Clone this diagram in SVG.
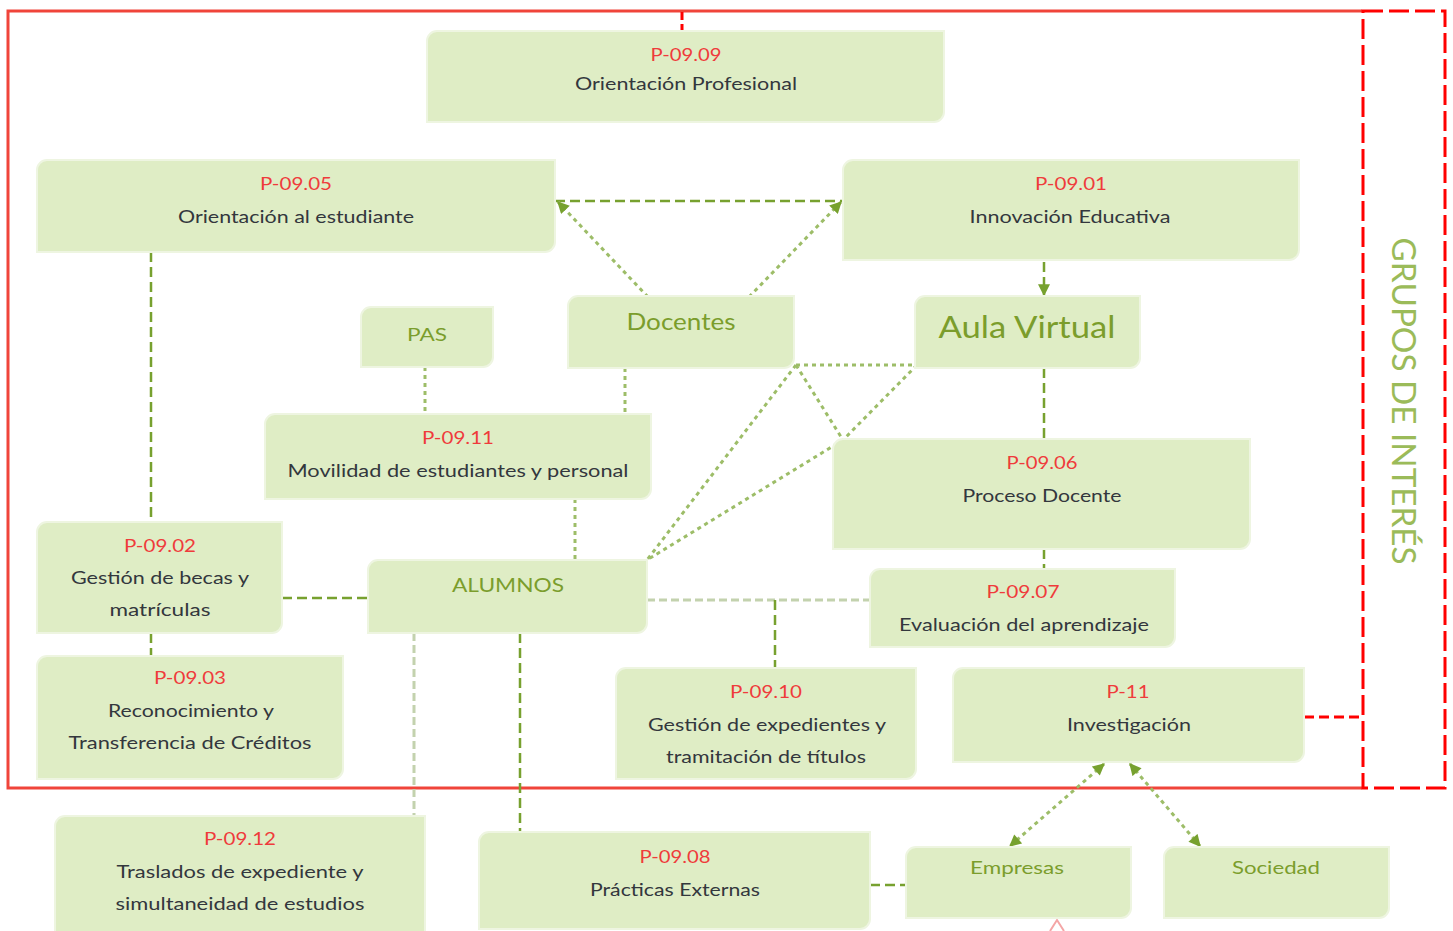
<svg xmlns="http://www.w3.org/2000/svg" width="1453" height="931" viewBox="0 0 1453 931">
<style>
.box{fill:#dfedc5;stroke:#eef5e1;stroke-width:2}
.code{font-family:Lato,"Liberation Sans",sans-serif;font-size:18px;fill:#ef3b3b;text-anchor:middle}
.desc{font-family:Lato,"Liberation Sans",sans-serif;font-size:18px;fill:#33373d;text-anchor:middle}
.lbl{font-family:Lato,"Liberation Sans",sans-serif;fill:#7b9d2c;text-anchor:middle}
.dk{fill:none;stroke:#77a12f;stroke-width:2.5;stroke-dasharray:10 5}
.lt{fill:none;stroke:#9dbd68;stroke-width:3;stroke-dasharray:4 4}
.pl{fill:none;stroke:#c3d2ae;stroke-width:3;stroke-dasharray:8 4}
.rd{fill:none;stroke:#ff0000;stroke-width:3;stroke-dasharray:20 6}
</style>
<defs>
<marker id="ah" viewBox="0 0 10 10" refX="9" refY="5" markerWidth="13" markerHeight="12" markerUnits="userSpaceOnUse" orient="auto-start-reverse"><path d="M0,0 L10,5 L0,10 z" fill="#77a12f"/></marker>
</defs>
<rect width="1453" height="931" fill="#ffffff"/>

<g id="frame">
<path d="M1362 11 H8 V788 H1362" fill="none" stroke="#f0443a" stroke-width="3"/>
<rect x="1363" y="11" width="82" height="777" class="rd"/>
<path d="M682 12 V31" class="rd" style="stroke-dasharray:8 4"/>
<path d="M1304 717 H1362" class="rd" style="stroke-dasharray:10 5"/>
<text x="0" y="0" transform="translate(1392 401) rotate(90)" font-family="Lato,'Liberation Sans',sans-serif" font-size="32" fill="#9bbb59" text-anchor="middle" textLength="327" lengthAdjust="spacingAndGlyphs">GRUPOS DE INTERÉS</text>
</g>

<g id="connectors">
<path d="M555 201 H843" class="dk"/>
<path d="M648 297 L558 202" class="lt" marker-end="url(#ah)"/>
<path d="M749 297 L841 202" class="lt" marker-end="url(#ah)"/>
<path d="M1044 262 V295" class="dk" marker-end="url(#ah)"/>
<path d="M1044 368 V439" class="dk"/>
<path d="M1044 549 V569" class="dk"/>
<path d="M151 252 V522" class="dk"/>
<path d="M151 633 V656" class="dk"/>
<path d="M425 367 V414" class="lt"/>
<path d="M625 368 V414" class="lt"/>
<path d="M575 499 V560" class="lt"/>
<path d="M282 598 H368" class="dk"/>
<path d="M647 600 H870" class="pl"/>
<path d="M775 600 V668" class="dk"/>
<path d="M414 633 V816" class="pl"/>
<path d="M520 633 V832" class="dk"/>
<path d="M796 365 H917" class="lt"/>
<path d="M796 365 L843 440" class="lt"/>
<path d="M796 365 L647 560" class="lt"/>
<path d="M917 365 L843 440 L647 560" class="lt"/>
<path d="M1104 764 L1010 846" class="lt" marker-start="url(#ah)" marker-end="url(#ah)"/>
<path d="M1130 764 L1200 846" class="lt" marker-start="url(#ah)" marker-end="url(#ah)"/>
<path d="M870 885 H906" class="dk"/>
<path d="M1050 931 L1057 920 L1064 931" fill="none" stroke="#f4a6a6" stroke-width="2"/>
</g>

<g id="n0909"><path class="box" d="M437 31 H944 V112 A10 10 0 0 1 934 122 H427 V41 A10 10 0 0 1 437 31Z"/>
<text class="code" x="686" y="61" textLength="71" lengthAdjust="spacingAndGlyphs">P-09.09</text>
<text class="desc" x="686" y="90" textLength="222" lengthAdjust="spacingAndGlyphs">Orientación Profesional</text></g>

<g id="n0905"><path class="box" d="M47 160 H555 V242 A10 10 0 0 1 545 252 H37 V170 A10 10 0 0 1 47 160Z"/>
<text class="code" x="296" y="190" textLength="72" lengthAdjust="spacingAndGlyphs">P-09.05</text>
<text class="desc" x="296" y="223" textLength="236" lengthAdjust="spacingAndGlyphs">Orientación al estudiante</text></g>

<g id="n0901"><path class="box" d="M853 160 H1299 V250 A10 10 0 0 1 1289 260 H843 V170 A10 10 0 0 1 853 160Z"/>
<text class="code" x="1071" y="190" textLength="72" lengthAdjust="spacingAndGlyphs">P-09.01</text>
<text class="desc" x="1070" y="223" textLength="201" lengthAdjust="spacingAndGlyphs">Innovación Educativa</text></g>

<g id="pas"><path class="box" d="M371 307 H493 V357 A10 10 0 0 1 483 367 H361 V317 A10 10 0 0 1 371 307Z"/>
<text class="lbl" x="427" y="341" font-size="18" textLength="40" lengthAdjust="spacingAndGlyphs">PAS</text></g>

<g id="docentes"><path class="box" d="M578 296 H794 V358 A10 10 0 0 1 784 368 H568 V306 A10 10 0 0 1 578 296Z"/>
<text class="lbl" x="681" y="330" font-size="24" textLength="109" lengthAdjust="spacingAndGlyphs">Docentes</text></g>

<g id="aula"><path class="box" d="M925 296 H1140 V358 A10 10 0 0 1 1130 368 H915 V306 A10 10 0 0 1 925 296Z"/>
<text class="lbl" x="1027" y="338" font-size="31" textLength="177" lengthAdjust="spacingAndGlyphs">Aula Virtual</text></g>

<g id="n0911"><path class="box" d="M275 414 H651 V489 A10 10 0 0 1 641 499 H265 V424 A10 10 0 0 1 275 414Z"/>
<text class="code" x="458" y="444" textLength="72" lengthAdjust="spacingAndGlyphs">P-09.11</text>
<text class="desc" x="458" y="477" textLength="341" lengthAdjust="spacingAndGlyphs">Movilidad de estudiantes y personal</text></g>

<g id="n0906"><path class="box" d="M843 439 H1250 V539 A10 10 0 0 1 1240 549 H833 V449 A10 10 0 0 1 843 439Z"/>
<text class="code" x="1042" y="469" textLength="71" lengthAdjust="spacingAndGlyphs">P-09.06</text>
<text class="desc" x="1042" y="502" textLength="159" lengthAdjust="spacingAndGlyphs">Proceso Docente</text></g>

<g id="n0902"><path class="box" d="M47 522 H282 V623 A10 10 0 0 1 272 633 H37 V532 A10 10 0 0 1 47 522Z"/>
<text class="code" x="160" y="552" textLength="72" lengthAdjust="spacingAndGlyphs">P-09.02</text>
<text class="desc" x="160" y="584" textLength="178" lengthAdjust="spacingAndGlyphs">Gestión de becas y</text>
<text class="desc" x="160" y="616" textLength="101" lengthAdjust="spacingAndGlyphs">matrículas</text></g>

<g id="alumnos"><path class="box" d="M378 560 H647 V623 A10 10 0 0 1 637 633 H368 V570 A10 10 0 0 1 378 560Z"/>
<text class="lbl" x="508" y="592" font-size="20" textLength="112" lengthAdjust="spacingAndGlyphs">ALUMNOS</text></g>

<g id="n0907"><path class="box" d="M880 569 H1175 V637 A10 10 0 0 1 1165 647 H870 V579 A10 10 0 0 1 880 569Z"/>
<text class="code" x="1023" y="598" textLength="73" lengthAdjust="spacingAndGlyphs">P-09.07</text>
<text class="desc" x="1024" y="631" textLength="250" lengthAdjust="spacingAndGlyphs">Evaluación del aprendizaje</text></g>

<g id="n0903"><path class="box" d="M47 656 H343 V769 A10 10 0 0 1 333 779 H37 V666 A10 10 0 0 1 47 656Z"/>
<text class="code" x="190" y="684" textLength="72" lengthAdjust="spacingAndGlyphs">P-09.03</text>
<text class="desc" x="191" y="717" textLength="166" lengthAdjust="spacingAndGlyphs">Reconocimiento y</text>
<text class="desc" x="190" y="749" textLength="243" lengthAdjust="spacingAndGlyphs">Transferencia de Créditos</text></g>

<g id="n0910"><path class="box" d="M626 668 H916 V769 A10 10 0 0 1 906 779 H616 V678 A10 10 0 0 1 626 668Z"/>
<text class="code" x="766" y="698" textLength="72" lengthAdjust="spacingAndGlyphs">P-09.10</text>
<text class="desc" x="767" y="731" textLength="238" lengthAdjust="spacingAndGlyphs">Gestión de expedientes y</text>
<text class="desc" x="766" y="763" textLength="200" lengthAdjust="spacingAndGlyphs">tramitación de títulos</text></g>

<g id="p11"><path class="box" d="M963 668 H1304 V752 A10 10 0 0 1 1294 762 H953 V678 A10 10 0 0 1 963 668Z"/>
<text class="code" x="1128" y="698" textLength="43" lengthAdjust="spacingAndGlyphs">P-11</text>
<text class="desc" x="1129" y="731" textLength="124" lengthAdjust="spacingAndGlyphs">Investigación</text></g>

<g id="n0912"><path class="box" d="M65 816 H425 V935 A10 10 0 0 1 415 945 H55 V826 A10 10 0 0 1 65 816Z"/>
<text class="code" x="240" y="845" textLength="72" lengthAdjust="spacingAndGlyphs">P-09.12</text>
<text class="desc" x="240" y="878" textLength="247" lengthAdjust="spacingAndGlyphs">Traslados de expediente y</text>
<text class="desc" x="240" y="910" textLength="249" lengthAdjust="spacingAndGlyphs">simultaneidad de estudios</text></g>

<g id="n0908"><path class="box" d="M489 832 H870 V919 A10 10 0 0 1 860 929 H479 V842 A10 10 0 0 1 489 832Z"/>
<text class="code" x="675" y="863" textLength="71" lengthAdjust="spacingAndGlyphs">P-09.08</text>
<text class="desc" x="675" y="896" textLength="170" lengthAdjust="spacingAndGlyphs">Prácticas Externas</text></g>

<g id="empresas"><path class="box" d="M916 847 H1131 V908 A10 10 0 0 1 1121 918 H906 V857 A10 10 0 0 1 916 847Z"/>
<text class="lbl" x="1017" y="874" font-size="18" textLength="94" lengthAdjust="spacingAndGlyphs">Empresas</text></g>

<g id="sociedad"><path class="box" d="M1174 847 H1389 V908 A10 10 0 0 1 1379 918 H1164 V857 A10 10 0 0 1 1174 847Z"/>
<text class="lbl" x="1276" y="874" font-size="18" textLength="88" lengthAdjust="spacingAndGlyphs">Sociedad</text></g>
</svg>
